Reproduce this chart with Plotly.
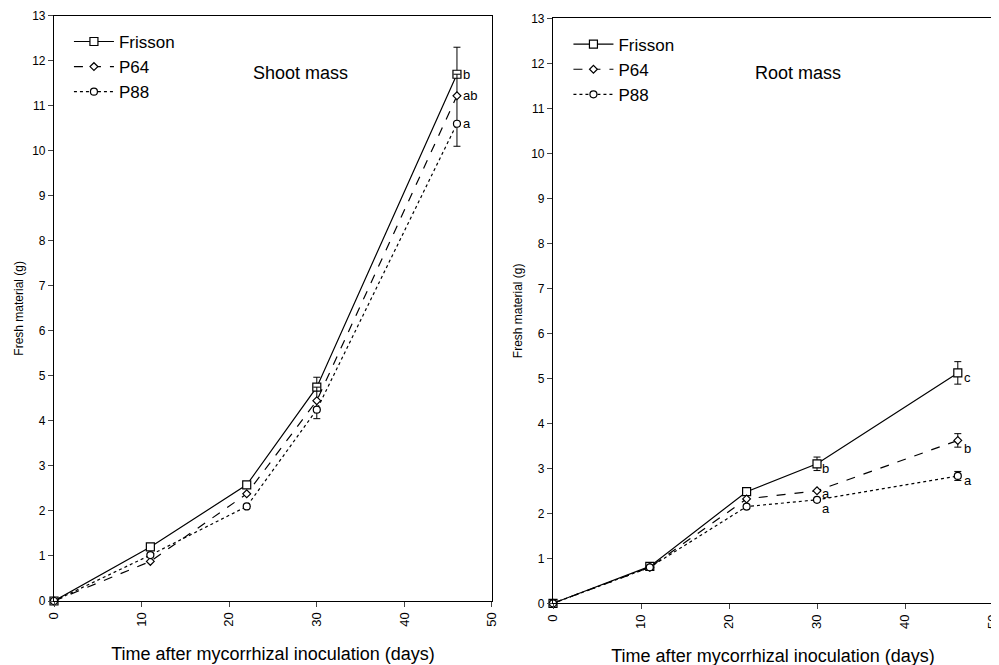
import plotly.graph_objects as go

days = [0, 11, 22, 30, 46]

shoot_frisson = [0, 1.2, 2.58, 4.75, 11.7]
shoot_p64 = [0, 0.88, 2.38, 4.45, 11.22]
shoot_p88 = [0, 1.02, 2.1, 4.25, 10.6]
shoot_frisson_err_up = [None, None, None, 0.22, 0.6]
shoot_p88_err_down = [None, None, None, 0.2, 0.5]

root_frisson = [0, 0.82, 2.48, 3.1, 5.12]
root_p64 = [0, 0.8, 2.32, 2.5, 3.62]
root_p88 = [0, 0.8, 2.15, 2.3, 2.83]
root_frisson_err = [None, None, None, 0.15, 0.25]
root_p64_err = [None, None, None, None, 0.15]
root_p88_err = [None, None, None, None, 0.1]

shoot_letters = [("b", 11.7), ("ab", 11.22), ("a", 10.6)]
root_letters_46 = [("c", 5.02), ("b", 3.45), ("a", 2.72)]
root_letters_30 = [("b", 3.0), ("a", 2.45), ("a", 2.1)]

FONT = "Liberation Sans, Arial, sans-serif"
names = ["Frisson", "P64", "P88"]
dashes = ["solid", "dash", "dot"]
symbols = ["square", "diamond", "circle"]
msizes = [8, 6, 7]

# vertical span joining the shoot error bars (Frisson -> P64 -> P88)
shoot_p64_up = [None, None, None, shoot_frisson[3] - shoot_p64[3], shoot_frisson[4] - shoot_p64[4]]
shoot_p64_down = [None, None, None, shoot_p64[3] - shoot_p88[3], shoot_p64[4] - shoot_p88[4]]

fig = go.Figure()

def add_series(xa, ya, leg, ys, errs):
    for i in range(3):
        err = errs[i]
        ey = None
        if err is not None:
            ey = dict(type="data", symmetric=False, array=err[0], arrayminus=err[1],
                      color="black", thickness=1, width=3.5, visible=True)
        fig.add_trace(go.Scatter(
            x=days, y=ys[i], name=names[i], mode="lines+markers",
            line=dict(color="black", width=1.2, dash=dashes[i]),
            marker=dict(symbol=symbols[i], size=msizes[i], color="white",
                        line=dict(color="black", width=1.2)),
            error_y=ey, xaxis=xa, yaxis=ya, legend=leg, cliponaxis=False,
        ))

zeros = [None] * 5
add_series("x", "y", "legend",
           [shoot_frisson, shoot_p64, shoot_p88],
           [(shoot_frisson_err_up, zeros), (shoot_p64_up, shoot_p64_down),
            (zeros, shoot_p88_err_down)])
add_series("x2", "y2", "legend2",
           [root_frisson, root_p64, root_p88],
           [(root_frisson_err, root_frisson_err), (root_p64_err, root_p64_err),
            (root_p88_err, root_p88_err)])

LF = dict(size=13, family=FONT, color="black")
ann = []
for t, v in shoot_letters:
    ann.append(dict(x=46, y=v, xref="x", yref="y", text=t, showarrow=False,
                    xanchor="left", xshift=4, font=LF))
for t, v in root_letters_46:
    ann.append(dict(x=46, y=v, xref="x2", yref="y2", text=t, showarrow=False,
                    xanchor="left", xshift=4, font=LF))
for t, v in root_letters_30:
    ann.append(dict(x=30, y=v, xref="x2", yref="y2", text=t, showarrow=False,
                    xanchor="left", xshift=3, font=LF))
ann.append(dict(x=0.2923, y=0.902, xref="paper", yref="paper", text="Shoot mass",
                xanchor="center", yanchor="middle",
                showarrow=False, font=dict(size=18, family=FONT, color="black")))
ann.append(dict(x=0.7908, y=0.902, xref="paper", yref="paper", text="Root mass",
                xanchor="center", yanchor="middle",
                showarrow=False, font=dict(size=18, family=FONT, color="black")))

xcommon = dict(range=[0, 50], tickvals=[0, 10, 20, 30, 40, 50], tickangle=-90,
               ticks="outside", ticklen=5, showline=True, linecolor="black", linewidth=1.2,
               mirror=True, showgrid=False, zeroline=False, automargin=False,
               tickfont=dict(size=13, family=FONT, color="black"),
               title=dict(text="Time after mycorrhizal inoculation (days)",
                          font=dict(size=18, family=FONT, color="black"), standoff=21))
ycommon = dict(range=[0, 13], dtick=1, ticks="outside", ticklen=5, showline=True,
               linecolor="black", linewidth=1.2, mirror=True, showgrid=False, zeroline=False,
               automargin=False,
               tickfont=dict(size=12, family=FONT, color="black"),
               title=dict(text="Fresh material (g)", font=dict(size=12, family=FONT, color="black"),
                          standoff=5))

legcommon = dict(font=dict(size=17, family=FONT, color="black"), bgcolor="rgba(0,0,0,0)",
                 borderwidth=0, xanchor="left", yanchor="top", tracegroupgap=2, itemwidth=40)

fig.update_layout(
    width=999, height=665, margin=dict(l=0, r=0, t=0, b=0, autoexpand=False),
    paper_bgcolor="white", plot_bgcolor="white",
    xaxis=dict(domain=[0.04605, 0.48448], anchor="y", **xcommon),
    yaxis=dict(domain=[0.10827, 0.98842], anchor="x", **ycommon),
    xaxis2=dict(domain=[0.54555, 0.98599], anchor="y2", **xcommon),
    yaxis2=dict(domain=[0.10481, 0.98451], anchor="x2", **ycommon),
    legend=dict(x=0.061, y=0.976, **legcommon),
    legend2=dict(x=0.561, y=0.972, **legcommon),
    annotations=ann,
    showlegend=True,
)

fig.write_html("out.html")
